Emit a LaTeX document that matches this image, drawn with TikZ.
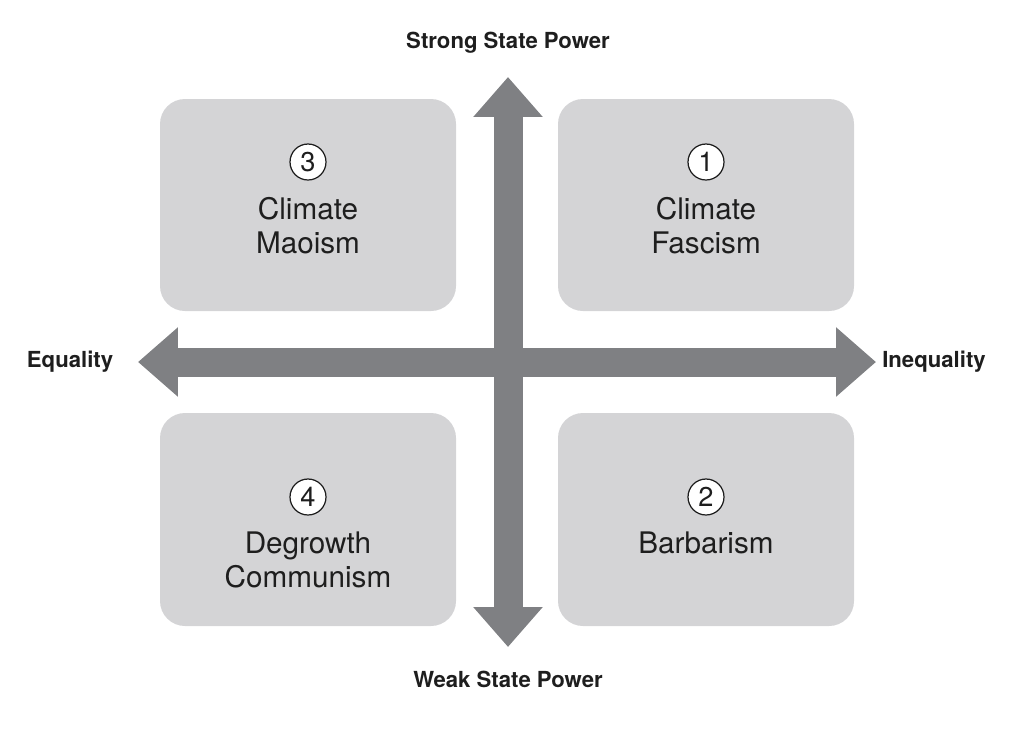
\documentclass[tikz,border=0pt]{standalone}
\usepackage{fontspec}
\setmainfont{TeX Gyre Heros}
\definecolor{axisgray}{RGB}{127, 128, 131}
\definecolor{boxgray}{RGB}{212, 212, 214}
\definecolor{textdark}{RGB}{30, 30, 30}
\usetikzlibrary{arrows.meta, positioning}

\begin{document}
\begin{tikzpicture}[x=0.02cm, y=-0.02cm,
    quadbox/.style={fill=boxgray, rounded corners=0.5cm},
    quadtext/.style={font=\fontsize{16.9}{19.4}\selectfont, text=textdark, align=center},
    numcircle/.style={circle, draw=textdark, fill=white, line width=0.7pt,
      inner sep=0pt, minimum size=0.72cm, font=\fontsize{15.5}{16}\selectfont, text=textdark},
    axislabel/.style={font=\fontsize{12.6}{14}\bfseries, text=textdark},
    axisarrow/.style={axisgray, line width=0.58cm,
      {Triangle[width=1.34cm, length=0.8cm]}-{Triangle[width=1.34cm, length=0.8cm]}}]
  \useasboundingbox (0,0) rectangle (1018,741);

  %% QUADRANT BOXES
  \fill[quadbox] (160,99) rectangle (456,311);
  \fill[quadbox] (558,99) rectangle (854,311);
  \fill[quadbox] (160,413) rectangle (456,626);
  \fill[quadbox] (558,413) rectangle (854,626);

  %% AXES
  \coordinate (top) at (508,77);
  \coordinate (bottom) at (508,647);
  \coordinate (left) at (138,362);
  \coordinate (right) at (876,362);
  \draw[axisarrow] (left) -- (right);
  \draw[axisarrow] (bottom) -- (top);

  %% AXIS LABELS
  \node[axislabel] (strong) at (508,43) {Strong State Power};
  \node[axislabel] (weak) at (508,679) {Weak State Power};
  \node[axislabel] (equal) at (70,362) {Equality};
  \node[axislabel] (unequal) at (934,362) {Inequality};

  %% QUADRANT TEXTS
  \node[numcircle] (n3) at (308,162) {3};
  \node[quadtext, below=0.2cm of n3] (maoism) {Climate\\Maoism};
  \node[numcircle] (n1) at (706,162) {1};
  \node[quadtext, below=0.2cm of n1] (fascism) {Climate\\Fascism};
  \node[numcircle] (n4) at (308,497) {4};
  \node[quadtext, below=0.2cm of n4] (communism) {Degrowth\\Communism};
  \node[numcircle] (n2) at (706,497) {2};
  \node[quadtext, below=0.2cm of n2] (barbarism) {Barbarism};
\end{tikzpicture}
\end{document}
